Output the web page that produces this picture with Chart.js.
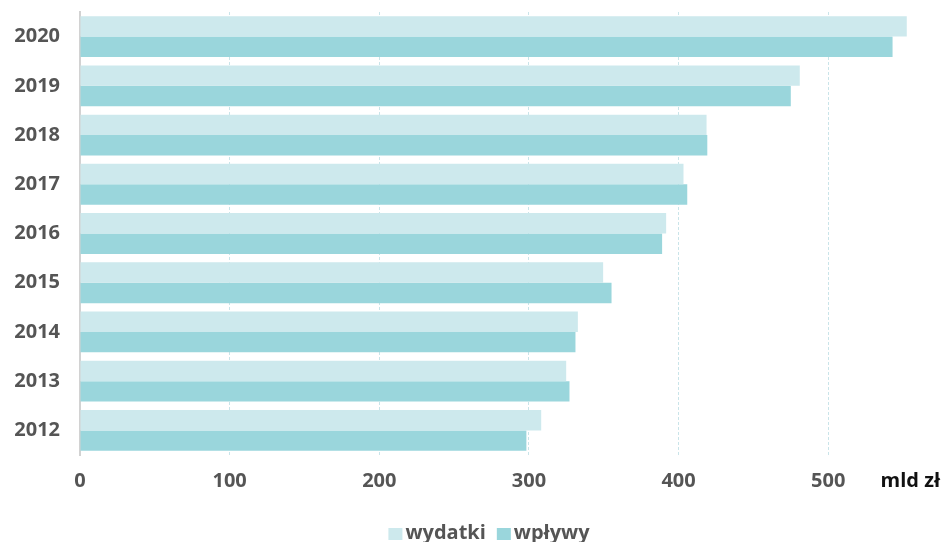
<!DOCTYPE html>
<html>
<head>
<meta charset="utf-8">
<script src="https://cdn.jsdelivr.net/npm/chart.js@4"></script>
<style>
  html, body { margin: 0; padding: 0; background: #fff; }
  #wrap { position: relative; width: 944px; height: 542px; }
</style>
</head>
<body>
<div id="wrap"><canvas id="budget-chart"></canvas></div>
<script>
const years = ["2020", "2019", "2018", "2017", "2016", "2015", "2014", "2013", "2012"];
const wydatki = [552.5, 481, 418.7, 403.3, 391.7, 349.6, 332.7, 324.9, 308.2];
const wplywy = [543, 475, 419.2, 405.8, 389, 355.2, 331.1, 327.1, 298.3];
const xTicks = [0, 100, 200, 300, 400, 500];
const unitLabel = "mld zł";

const FONT = "'Open Sans', 'Noto Sans', sans-serif";

// unit label at the end of the x axis + custom bottom legend
const extras = {
  id: "extras",
  afterDraw(chart) {
    const ctx = chart.ctx;
    ctx.save();
    ctx.font = "bold 20px " + FONT;
    ctx.textBaseline = "middle";

    ctx.fillStyle = "#111";
    ctx.textAlign = "right";
    ctx.fillText(unitLabel, 940, 481);

    // legend
    const items = chart.data.datasets.map((ds) => ({
      text: ds.label,
      color: ds.backgroundColor,
      w: 14 + 3 + ctx.measureText(ds.label).width,
    }));
    const gap = 11;
    const total = items.reduce((s, it) => s + it.w, 0) + gap * (items.length - 1);
    let x = 489 - total / 2;
    const y = 533;
    ctx.textAlign = "left";
    items.forEach((it) => {
      ctx.fillStyle = it.color;
      ctx.fillRect(x, y - 5, 14, 12);
      ctx.fillStyle = "#555";
      ctx.fillText(it.text, x + 17, y);
      x += it.w + gap;
    });
    ctx.restore();
  },
};

let config = {
  type: "bar",
  data: {
    labels: years,
    datasets: [
      {
        label: "wydatki",
        backgroundColor: "#cde9ed",
        data: wydatki,
        categoryPercentage: 0.83,
        barPercentage: 1.0,
      },
      {
        label: "wpływy",
        backgroundColor: "#9ad6dc",
        data: wplywy,
        categoryPercentage: 0.83,
        barPercentage: 1.0,
      },
    ],
  },
  options: {
    indexAxis: "y",
    responsive: true,
    maintainAspectRatio: false,
    animation: false,
    layout: { padding: { top: 0, right: 26, left: 0, bottom: 0 } },
    plugins: {
      legend: { display: false },
      tooltip: { enabled: false },
    },
    scales: {
      x: {
        min: 0,
        max: 560,
        afterBuildTicks(scale) {
          scale.ticks = xTicks.map((v) => ({ value: v }));
        },
        afterFit(scale) {
          scale.height = 87;
        },
        grid: {
          drawTicks: false,
          color: (c) => (c.tick && c.tick.value === 0 ? "rgba(0,0,0,0)" : "#c9e4e9"),
          lineWidth: 1,
        },
        border: { display: false, dash: [3, 2] },
        ticks: {
          padding: 14,
          color: "#555",
          font: { family: FONT, size: 20, weight: "bold" },
        },
      },
      y: {
        afterFit(scale) {
          scale.width = 80;
        },
        // invisible tick marks only push the labels away from the axis
        grid: { display: true, drawOnChartArea: false, drawTicks: true, tickLength: 20, color: "rgba(0,0,0,0)" },
        border: { display: true, color: "#d2d2d2", width: 2 },
        ticks: {
          padding: 0,
          color: "#555",
          font: { family: FONT, size: 20, weight: "bold" },
        },
      },
    },
  },
  plugins: [extras],
};

let ctx = document.getElementById("budget-chart").getContext("2d");
window.myBar = new Chart(ctx, config);
</script>
</body>
</html>
